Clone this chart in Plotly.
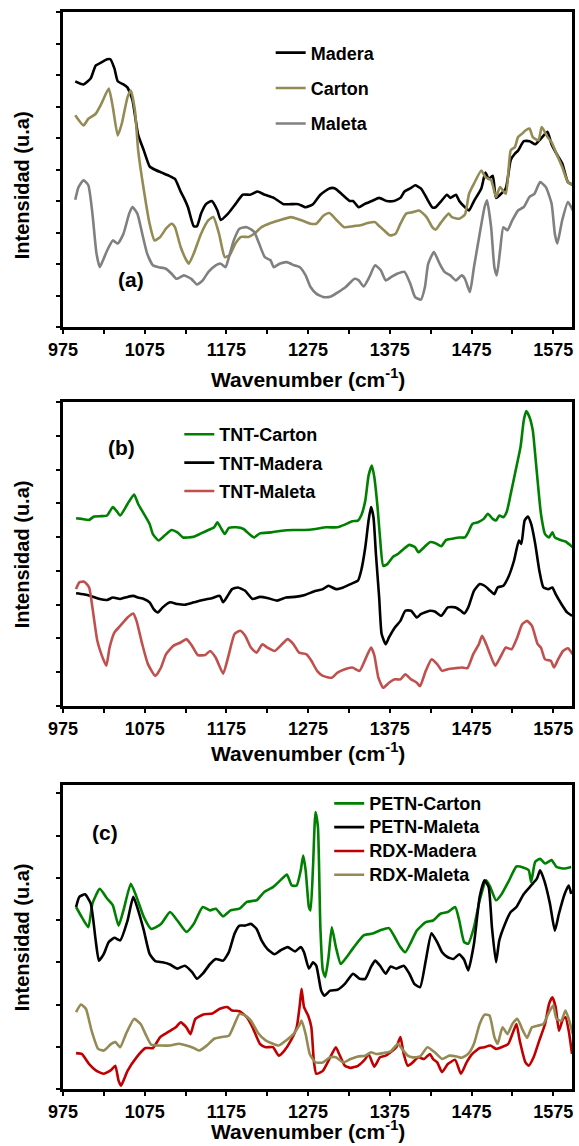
import plotly.graph_objects as go

# ---------------- data (wavenumber cm-1, intensity a.u.) ----------------
# Panel (a)
madera = [(990,7.8),(1000,7.7),(1009,7.9),(1015,8.3),(1022,8.4),(1029,8.5),(1033,8.5),(1038,8.2),(1042,7.8),(1049,7.7),
          (1054,7.6),(1060,7.2),(1067,6.1),(1074,5.6),(1081,5.1),(1087,5.0),(1096,4.9),(1105,4.8),(1112,4.7),(1119,4.3),
          (1123,4.1),(1128,3.8),(1135,3.2),(1139,3.2),(1144,3.6),(1150,3.9),(1157,4.0),(1164,3.7),(1168,3.4),(1177,3.6),
          (1186,3.9),(1195,4.2),(1204,4.2),(1213,4.3),(1222,4.2),(1233,4.1),(1245,3.9),(1254,3.9),(1263,3.9),(1272,3.8),
          (1281,3.9),(1290,4.2),(1301,4.4),(1308,4.4),(1317,4.2),(1326,4.0),(1330,4.0),(1337,3.8),(1344,3.9),(1353,4.0),
          (1362,4.1),(1371,4.0),(1380,4.0),(1388,4.1),(1393,4.3),(1400,4.4),(1406,4.5),(1413,4.4),(1420,4.1),(1427,3.8),
          (1431,3.8),(1438,4.0),(1445,4.2),(1449,4.1),(1456,4.2),(1460,4.0),(1467,3.8),(1472,3.7),(1478,4.0),(1487,4.4),
          (1492,4.9),(1496,4.7),(1501,4.8),(1505,4.1),(1510,4.2),(1517,4.4),(1523,5.3),(1528,5.5),(1532,5.6),(1539,5.9),
          (1546,5.9),(1553,5.8),(1557,5.9),(1564,6.1),(1568,6.2),(1573,5.8),(1579,5.5),(1586,5.2),(1593,4.6),(1600,4.5)]
carton = [(990,6.72),(1000,6.40),(1006,6.61),(1015,6.77),(1022,7.09),(1031,7.57),(1036,6.98),(1042,6.08),(1047,6.46),
          (1054,7.30),(1058,7.51),(1063,6.88),(1067,5.61),(1074,4.34),(1081,3.28),(1087,2.75),(1094,2.86),(1101,3.12),
          (1108,3.28),(1112,3.17),(1119,2.54),(1126,2.12),(1129,2.01),(1135,2.33),(1144,2.96),(1153,3.39),(1159,3.49),
          (1166,2.96),(1173,2.22),(1179,2.28),(1186,2.65),(1193,2.86),(1202,2.86),(1209,2.96),(1218,3.17),(1227,3.28),
          (1240,3.39),(1254,3.49),(1267,3.39),(1278,3.28),(1285,3.28),(1294,3.54),(1301,3.62),(1310,3.39),(1319,3.17),
          (1330,3.20),(1339,3.23),(1348,3.30),(1357,3.33),(1361,3.23),(1368,3.07),(1375,2.91),(1382,2.96),(1388,3.28),
          (1395,3.60),(1404,3.65),(1411,3.70),(1420,3.49),(1427,3.17),(1431,3.09),(1438,3.33),(1447,3.60),(1451,3.49),
          (1460,3.44),(1467,3.57),(1472,4.23),(1478,4.55),(1487,4.97),(1492,4.76),(1499,4.66),(1505,4.13),(1510,4.44),
          (1517,4.23),(1523,5.61),(1528,5.71),(1532,6.03),(1537,6.14),(1541,6.24),(1546,6.30),(1550,6.03),(1557,5.93),
          (1561,6.35),(1568,6.03),(1573,5.87),(1579,5.50),(1586,5.08),(1593,4.60),(1600,4.50)]
maleta = [(990,4.04),(994,4.44),(1000,4.66),(1006,4.50),(1011,3.60),(1016,2.33),(1020,1.90),(1024,2.12),(1029,2.43),
          (1036,2.75),(1042,2.65),(1049,2.96),(1056,3.60),(1060,3.81),(1066,3.60),(1072,2.96),(1078,2.33),(1085,1.96),
          (1092,1.90),(1101,1.85),(1108,1.69),(1114,1.53),(1123,1.64),(1132,1.53),(1139,1.35),(1146,1.48),(1153,1.75),
          (1162,1.96),(1168,2.01),(1174,1.90),(1177,2.12),(1184,2.75),(1191,3.12),(1200,3.17),(1209,3.02),(1215,2.65),
          (1222,2.22),(1229,2.12),(1233,1.90),(1240,2.01),(1249,2.06),(1258,1.96),(1265,1.90),(1272,1.64),(1278,1.27),
          (1285,1.06),(1294,0.95),(1303,0.97),(1312,1.11),(1321,1.27),(1332,1.53),(1337,1.48),(1343,1.29),(1350,1.59),
          (1357,1.96),(1364,1.80),(1370,1.48),(1377,1.59),(1384,1.69),(1393,1.75),(1400,1.38),(1406,0.95),(1413,0.87),
          (1418,1.27),(1422,2.01),(1429,2.38),(1436,2.01),(1442,1.75),(1449,1.64),(1456,1.48),(1463,1.64),(1467,1.53),
          (1473,1.11),(1478,1.90),(1485,2.96),(1491,3.81),(1494,4.02),(1499,3.17),(1503,1.90),(1506,1.64),(1510,2.43),
          (1514,3.17),(1519,3.07),(1525,3.39),(1532,3.70),(1539,3.81),(1546,4.13),(1552,4.23),(1559,4.60),(1566,4.44),
          (1573,3.92),(1577,2.96),(1580,2.65),(1586,3.39),(1593,3.97),(1597,3.81),(1601,3.60)]

# Panel (b)
tnt_carton = [(991,5.56),(998,5.54),(1007,5.51),(1013,5.61),(1022,5.62),(1029,5.64),(1036,5.89),(1040,5.79),(1045,5.64),
              (1054,5.98),(1062,6.26),(1067,5.98),(1074,5.69),(1081,5.39),(1085,5.09),(1092,4.90),(1099,5.04),(1108,5.21),
              (1115,5.14),(1122,4.99),(1128,4.99),(1135,5.01),(1144,5.11),(1153,5.21),(1160,5.29),(1164,5.44),(1169,5.24),
              (1173,5.09),(1178,5.27),(1187,5.29),(1196,5.24),(1203,5.09),(1209,4.99),(1216,5.11),(1230,5.14),(1243,5.19),
              (1257,5.21),(1270,5.21),(1284,5.24),(1297,5.29),(1311,5.29),(1320,5.37),(1329,5.47),(1336,5.49),(1340,5.64),
              (1345,6.08),(1349,6.82),(1353,7.12),(1356,6.78),(1360,5.89),(1363,4.99),(1367,4.15),(1372,4.20),(1379,4.42),
              (1385,4.50),(1392,4.65),(1399,4.77),(1406,4.70),(1410,4.55),(1417,4.70),(1424,4.85),(1431,4.82),(1438,4.73),
              (1444,4.92),(1451,4.95),(1460,4.99),(1467,4.99),(1471,5.14),(1476,5.39),(1483,5.44),(1490,5.54),(1495,5.69),
              (1501,5.54),(1505,5.49),(1509,5.64),(1514,5.59),(1518,5.74),(1523,6.28),(1529,6.97),(1535,7.67),(1539,8.46),
              (1542,8.73),(1546,8.55),(1550,8.16),(1554,7.17),(1560,5.69),(1565,5.09),(1570,4.99),(1574,5.14),(1577,4.99),
              (1583,4.92),(1590,4.87),(1599,4.70)]
tnt_madera = [(991,3.34),(1000,3.31),(1009,3.26),(1020,3.17),(1029,3.14),(1036,3.21),(1045,3.17),(1054,3.23),(1061,3.26),
              (1067,3.21),(1074,3.17),(1081,3.07),(1086,2.87),(1091,2.77),(1097,2.92),(1106,3.07),(1115,3.02),(1124,3.00),
              (1135,3.07),(1146,3.14),(1158,3.20),(1167,3.26),(1171,3.07),(1176,3.24),(1182,3.46),(1189,3.51),(1198,3.41),
              (1207,3.17),(1216,3.23),(1225,3.20),(1237,3.12),(1248,3.21),(1259,3.23),(1270,3.28),(1282,3.39),(1293,3.46),
              (1300,3.56),(1309,3.46),(1318,3.51),(1327,3.61),(1336,3.71),(1340,4.01),(1345,4.70),(1349,5.49),(1352,5.89),
              (1355,5.59),(1358,4.50),(1362,3.21),(1365,2.13),(1370,1.83),(1374,2.03),(1381,2.32),(1388,2.52),(1394,2.82),
              (1401,2.82),(1408,2.62),(1413,2.72),(1424,2.82),(1430,2.80),(1438,2.67),(1446,2.92),(1455,2.92),(1462,2.82),
              (1466,2.74),(1471,2.92),(1478,3.41),(1485,3.61),(1491,3.56),(1498,3.41),(1503,3.31),(1507,3.51),(1514,3.56),
              (1520,3.81),(1527,4.30),(1533,4.90),(1536,4.80),(1540,5.49),(1544,5.61),(1548,5.39),(1553,4.80),(1558,4.01),
              (1563,3.51),(1569,3.46),(1574,3.51),(1578,3.31),(1585,3.02),(1592,2.77),(1598,2.67)]
tnt_maleta = [(991,3.46),(995,3.66),(1001,3.68),(1007,3.51),(1011,2.92),(1017,1.93),(1022,1.53),(1028,1.19),(1032,1.73),
              (1038,2.18),(1045,2.37),(1054,2.62),(1061,2.74),(1065,2.52),(1072,1.83),(1079,1.24),(1088,0.89),(1095,1.14),
              (1101,1.53),(1110,1.78),(1119,1.88),(1126,1.98),(1133,1.78),(1140,1.51),(1149,1.51),(1155,1.63),(1162,1.43),
              (1171,0.96),(1178,1.53),(1185,2.13),(1192,2.23),(1198,2.08),(1205,1.73),(1212,1.58),(1219,1.83),(1225,1.73),
              (1234,1.63),(1243,1.83),(1250,1.98),(1257,1.83),(1264,1.58),(1273,1.53),(1279,1.34),(1286,1.04),(1293,0.89),
              (1304,0.84),(1311,0.99),(1320,1.09),(1329,1.14),(1338,1.04),(1345,1.38),(1352,1.73),(1356,1.51),(1361,0.84),
              (1367,0.54),(1374,0.69),(1381,0.79),(1388,0.79),(1394,0.94),(1401,0.79),(1408,0.69),(1412,0.59),(1419,1.04),
              (1426,1.38),(1433,1.24),(1439,1.04),(1446,1.09),(1455,1.12),(1463,1.14),(1470,1.12),(1477,1.53),(1484,1.83),
              (1488,2.08),(1493,1.83),(1497,1.58),(1504,1.19),(1511,1.48),(1517,1.73),(1524,1.68),(1531,2.03),(1537,2.42),
              (1543,2.52),(1549,2.37),(1556,1.83),(1560,1.73),(1565,1.38),(1572,1.34),(1576,1.14),(1581,1.38),(1587,1.63),
              (1593,1.71),(1599,1.53)]

# Panel (c)
petn_carton = [(991,4.31),(998,4.07),(1006,3.83),(1011,4.39),(1020,4.74),(1029,4.51),(1036,4.35),(1043,3.87),(1049,4.23),
               (1058,4.86),(1065,4.55),(1074,4.07),(1083,3.79),(1095,3.91),(1106,4.19),(1115,3.99),(1126,3.72),(1135,3.91),
               (1146,4.31),(1155,4.23),(1162,4.27),(1171,4.09),(1180,4.23),(1191,4.27),(1200,4.43),(1212,4.47),(1221,4.66),
               (1232,4.78),(1241,4.94),(1249,5.08),(1255,4.82),(1261,4.82),(1266,5.18),(1269,5.53),(1272,5.18),(1276,4.31),
               (1278,4.23),(1281,5.26),(1284,6.56),(1287,6.21),(1290,3.83),(1293,2.81),(1296,2.65),(1300,3.12),(1304,3.83),
               (1309,3.36),(1315,2.96),(1322,3.12),(1331,3.36),(1343,3.64),(1354,3.68),(1365,3.77),(1374,3.81),(1381,3.60),
               (1388,3.36),(1394,3.24),(1401,3.48),(1408,3.75),(1419,3.95),(1428,3.99),(1437,4.15),(1446,4.19),(1455,4.31),
               (1460,3.99),(1466,3.48),(1471,3.44),(1478,3.83),(1485,4.47),(1493,4.94),(1498,4.78),(1505,4.47),(1512,4.62),
               (1521,4.94),(1530,5.27),(1539,5.24),(1545,5.18),(1548,4.90),(1553,5.38),(1559,5.45),(1565,5.34),(1573,5.42),
               (1579,5.26),(1588,5.22),(1597,5.26)]
petn_maleta = [(991,4.31),(995,4.55),(1002,4.61),(1009,4.39),(1015,3.52),(1019,3.04),(1025,3.20),(1031,3.48),(1038,3.58),
               (1045,3.52),(1054,3.99),(1061,4.55),(1067,4.23),(1074,3.75),(1081,3.20),(1088,3.03),(1097,3.00),(1106,2.95),
               (1115,2.85),(1124,2.92),(1133,2.77),(1139,2.61),(1146,2.73),(1155,2.96),(1162,3.08),(1171,3.04),(1178,3.24),
               (1185,3.68),(1191,3.87),(1198,3.87),(1205,3.91),(1212,3.79),(1218,3.52),(1225,3.32),(1234,3.19),(1241,3.28),
               (1250,3.36),(1259,3.26),(1266,3.36),(1270,3.24),(1276,2.85),(1281,3.00),(1285,2.92),(1291,2.33),(1295,2.21),
               (1302,2.33),(1311,2.35),(1320,2.49),(1330,2.73),(1338,2.61),(1345,2.61),(1352,2.89),(1357,3.04),(1363,2.92),
               (1370,2.73),(1376,2.90),(1383,2.85),(1392,2.92),(1399,2.73),(1405,2.49),(1412,2.41),(1419,3.04),(1426,3.69),
               (1433,3.48),(1439,3.24),(1446,3.12),(1453,3.08),(1460,3.19),(1466,3.06),(1471,2.81),(1478,3.44),(1485,4.55),
               (1491,4.94),(1496,4.78),(1500,3.83),(1505,3.00),(1509,3.52),(1516,3.91),(1523,4.19),(1530,4.31),(1539,4.62),
               (1548,4.82),(1555,4.98),(1559,5.18),(1564,4.94),(1571,4.39),(1577,3.75),(1582,4.15),(1589,4.62),(1594,4.82),
               (1597,4.62)]
rdx_madera = [(991,0.85),(998,0.83),(1007,0.59),(1016,0.43),(1025,0.36),(1034,0.45),(1039,0.55),(1043,0.20),(1046,0.08),
              (1054,0.43),(1065,0.75),(1076,0.97),(1085,0.97),(1094,1.23),(1103,1.34),(1113,1.46),(1119,1.58),(1126,1.46),
              (1131,1.30),(1137,1.66),(1146,1.76),(1158,1.79),(1167,1.90),(1176,1.94),(1182,1.86),(1191,1.84),(1200,1.70),
              (1207,1.46),(1216,1.07),(1223,0.99),(1232,0.99),(1239,0.79),(1246,0.91),(1254,1.15),(1261,1.46),(1265,2.02),
              (1267,2.37),(1270,1.94),(1275,1.74),(1279,1.46),(1282,0.67),(1285,0.36),(1293,0.43),(1302,0.75),(1309,0.99),
              (1313,0.83),(1320,0.55),(1327,0.50),(1336,0.55),(1345,0.71),(1349,0.83),(1356,0.53),(1363,0.75),(1370,0.79),
              (1376,0.87),(1383,0.99),(1388,1.23),(1392,0.83),(1397,0.55),(1403,0.63),(1410,0.75),(1417,0.71),(1424,0.83),
              (1428,0.71),(1433,0.63),(1439,0.40),(1446,0.59),(1455,0.69),(1462,0.36),(1469,0.63),(1476,0.83),(1485,0.97),
              (1491,0.99),(1498,1.03),(1505,0.95),(1513,1.00),(1520,1.07),(1525,1.30),(1530,1.54),(1534,1.15),(1541,0.63),
              (1545,0.55),(1551,0.75),(1558,1.15),(1565,1.54),(1570,2.02),(1574,2.17),(1578,1.94),(1582,1.38),(1587,1.66),
              (1590,1.70),(1594,1.38),(1598,0.83)]
rdx_maleta = [(991,1.82),(997,2.00),(1003,1.90),(1010,1.38),(1018,0.95),(1025,0.91),(1034,1.07),(1039,1.11),(1045,0.99),
              (1052,1.30),(1062,1.66),(1070,1.54),(1076,1.30),(1083,1.05),(1095,1.03),(1106,1.03),(1117,1.07),(1126,1.03),
              (1135,0.97),(1142,0.91),(1151,1.03),(1160,1.19),(1169,1.23),(1178,1.26),(1185,1.54),(1191,1.78),(1198,1.74),
              (1205,1.62),(1214,1.32),(1223,1.15),(1232,1.07),(1239,1.03),(1248,1.15),(1257,1.30),(1264,1.50),(1267,1.62),
              (1272,1.30),(1277,0.83),(1284,0.63),(1293,0.63),(1302,0.75),(1309,0.75),(1318,0.63),(1327,0.71),(1336,0.77),
              (1345,0.79),(1352,0.87),(1358,0.83),(1367,0.85),(1376,0.89),(1385,1.07),(1390,0.95),(1397,0.79),(1403,0.75),
              (1412,0.77),(1421,0.99),(1430,0.87),(1439,0.71),(1448,0.79),(1457,0.77),(1463,0.74),(1471,0.83),(1478,1.07),
              (1485,1.54),(1491,1.76),(1497,1.74),(1503,1.23),(1507,1.07),(1513,1.46),(1519,1.30),(1525,1.54),(1531,1.66),
              (1538,1.38),(1543,1.21),(1549,1.46),(1556,1.50),(1563,1.54),(1570,1.82),(1575,1.98),(1579,1.66),(1585,1.62),
              (1590,1.86),(1594,1.66),(1599,1.30)]

x_tick_start = 975
x_tick_step = 100
x_minor_step = 50
x_range = [975, 1598]

panels = [
    dict(series=[('Madera', madera, '#000000'), ('Carton', carton, '#948A54'), ('Maleta', maleta, '#808080')],
         domain=[0.7075, 1.0], yrange=[0, 10], legend=dict(x=0.408, y=0.929, gap=9, size=18),
         tag='(a)', tagpos=(0.1328, 0.7512), ytitle_y=0.8394, xtitle_y=0.6602),
    dict(series=[('TNT-Carton', tnt_carton, '#008000'), ('TNT-Madera', tnt_madera, '#000000'),
                 ('TNT-Maleta', tnt_maleta, '#C0504D')],
         domain=[0.3556, 0.6379], yrange=[0, 9], legend=dict(x=0.2285, y=0.5812, gap=2, size=18),
         tag='(b)', tagpos=(0.1152, 0.5961), ytitle_y=0.4967, xtitle_y=0.3129),
    dict(series=[('PETN-Carton', petn_carton, '#008000'), ('PETN-Maleta', petn_maleta, '#000000'),
                 ('RDX-Madera', rdx_madera, '#C00000'), ('RDX-Maleta', rdx_maleta, '#948A54')],
         domain=[0.0, 0.2823], yrange=[0, 7.2], legend=dict(x=0.523, y=0.2317, gap=0, size=16),
         tag='(c)', tagpos=(0.082, 0.2377), ytitle_y=0.2823 / 2, xtitle_y=None),
]

FONT = 'Arial, Liberation Sans, sans-serif'
fig = go.Figure()
layout = dict(width=579, height=1146, margin=dict(l=63, r=4, t=12, b=57),
              plot_bgcolor='white', paper_bgcolor='white', annotations=[])

for i, p in enumerate(panels, start=1):
    sfx = '' if i == 1 else str(i)
    lg = 'legend' if i == 1 else f'legend{i}'
    L = p['legend']
    for name, pts, color in p['series']:
        label = name if L['size'] == 18 else f'<span style="font-size:18px">{name}</span>'
        fig.add_trace(go.Scatter(
            x=[a for a, b in pts], y=[b for a, b in pts], name=label, mode='lines',
            line=dict(color=color, width=2.6, shape='spline', smoothing=0.5),
            xaxis='x' + sfx, yaxis='y' + sfx, legend=lg, legendgroup=name))
    layout['xaxis' + sfx] = dict(domain=[0, 1], anchor='y' + sfx, range=x_range,
                                 tick0=x_tick_start, dtick=x_tick_step,
                                 ticks='outside', ticklen=4, tickwidth=2, tickcolor='black',
                                 minor=dict(tick0=x_tick_start, dtick=x_minor_step, ticks='outside',
                                            ticklen=4, tickwidth=2, tickcolor='black', showgrid=False),
                                 showline=True, linewidth=3, linecolor='black', mirror=True,
                                 showgrid=False, zeroline=False,
                                 tickfont=dict(family=FONT, size=18, color='black', weight='bold'))
    layout['yaxis' + sfx] = dict(domain=p['domain'], anchor='x' + sfx, range=p['yrange'],
                                 tick0=0, dtick=1, ticks='outside', ticklen=4, tickwidth=2,
                                 tickcolor='black', showticklabels=False,
                                 showline=True, linewidth=3, linecolor='black', mirror=True,
                                 showgrid=False, zeroline=False)
    layout[lg] = dict(x=L['x'], y=L['y'], xanchor='left', yanchor='middle',
                      bgcolor='rgba(0,0,0,0)', borderwidth=0, tracegroupgap=L['gap'],
                      itemwidth=30, traceorder='grouped',
                      font=dict(family=FONT, size=L['size'], color='black', weight='bold'))
    xt = dict(text='<b>Wavenumber (cm<sup>-1</sup>)</b>', x=0.4805, xref='paper', yref='paper',
              xanchor='center', showarrow=False, font=dict(family=FONT, size=21, color='black'))
    if p['xtitle_y'] is None:
        xt.update(y=-0.0520, yanchor='bottom')
    else:
        xt.update(y=p['xtitle_y'], yanchor='middle')
    layout['annotations'] += [
        dict(text='<b>' + p['tag'] + '</b>', x=p['tagpos'][0], y=p['tagpos'][1], xref='paper', yref='paper',
             xanchor='center', yanchor='middle', showarrow=False,
             font=dict(family=FONT, size=21, color='black')),
        dict(text='<b>Intensidad (u.a)</b>', x=-0.080, y=p['ytitle_y'], xref='paper', yref='paper',
             xanchor='center', yanchor='middle', textangle=-90, showarrow=False,
             font=dict(family=FONT, size=20, color='black')),
        xt,
    ]

fig.update_layout(**layout)
fig.write_html('out.html')
